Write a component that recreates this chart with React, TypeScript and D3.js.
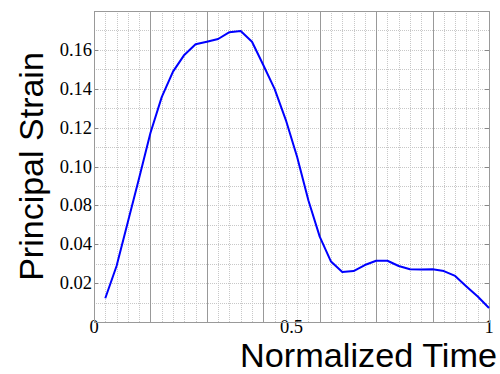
import React from "react";
import * as d3 from "d3";

const W = 500;
const H = 374;
const M = { top: 11, right: 11, bottom: 52, left: 94 };

// Normalized time samples (k/35)
const timeIndex = d3.range(1, 36);
const timeSteps = 35;
const strain = [
  0.0122, 0.0288, 0.0629, 0.0941, 0.1172, 0.1357, 0.1488, 0.1574, 0.1629,
  0.1642, 0.1656, 0.1691, 0.1697, 0.1642, 0.1522, 0.1399, 0.1239, 0.1049,
  0.0825, 0.0478, 0.0311, 0.0257, 0.0262, 0.0293, 0.0315, 0.0315, 0.0288,
  0.0271, 0.027, 0.0271, 0.0262, 0.0237, 0.0183, 0.0131, 0.0072,
];

// y axis as drawn: evenly spaced ticks with these labels
const yTickValues = [0.02, 0.04, 0.08, 0.1, 0.12, 0.14, 0.16];
const yTickLabels = ["0.02", "0.04", "0.08", "0.10", "0.12", "0.14", "0.16"];
const yDomain = [0, 0.02, 0.04, 0.08, 0.1, 0.12, 0.14, 0.16, 0.18];

const xTickValues = [0, 0.5, 1];
const xTickLabels = ["0", "0.5", "1"];
const xMajorDiv = 7;
const xMinorDiv = 35;
const yMinorDiv = 16;

const xLabel = "Normalized Time";
const yLabel = "Principal Strain";

export default function App() {
  const x0 = M.left;
  const x1 = W - M.right;
  const yb = H - M.bottom;
  const yt = M.top;
  const x = d3.scaleLinear().domain([0, 1]).range([x0, x1]);
  const yRange = yDomain.map((_, i) => yb + (i * (yt - yb)) / (yDomain.length - 1));
  const y = d3.scaleLinear().domain(yDomain).range(yRange);

  const data = timeIndex.map((k, i) => ({ t: k / timeSteps, v: strain[i] }));
  const line = d3
    .line<{ t: number; v: number }>()
    .x((d) => x(d.t))
    .y((d) => y(d.v));

  const snap = (v: number) => Math.round(v) + 0.5;

  const xMinor = d3
    .range(1, xMinorDiv)
    .filter((i) => i % (xMinorDiv / xMajorDiv) !== 0)
    .map((i) => i / xMinorDiv);
  const xMajor = d3.range(1, xMajorDiv).map((i) => i / xMajorDiv);
  const yMinorPos = d3.range(1, yMinorDiv).map((i) => yb + (i * (yt - yb)) / yMinorDiv);

  const serifStyle = { fontFamily: '"Liberation Serif", "DejaVu Serif", serif' };
  const sansStyle = { fontFamily: '"Liberation Sans", Arial, sans-serif' };

  return (
    <svg
      width={W}
      height={H}
      style={{ position: "absolute", left: 0, top: 0, background: "#fff" }}
    >
      <rect x={0} y={0} width={W} height={H} fill="#fff" />
      {/* minor vertical grid */}
      {xMinor.map((t, i) => (
        <line
          key={"xm" + i}
          x1={snap(x(t))}
          x2={snap(x(t))}
          y1={yt}
          y2={yb}
          stroke="#c8c8c8"
          strokeWidth={1}
          strokeDasharray="1,1"
        />
      ))}
      {/* horizontal grid */}
      {yMinorPos.map((p, i) => (
        <line
          key={"ym" + i}
          x1={x0}
          x2={x1}
          y1={snap(p)}
          y2={snap(p)}
          stroke="#c8c8c8"
          strokeWidth={1}
          strokeDasharray="1,1"
        />
      ))}
      {/* major vertical grid */}
      {xMajor.map((t, i) => (
        <line
          key={"xM" + i}
          x1={snap(x(t))}
          x2={snap(x(t))}
          y1={yt}
          y2={yb}
          stroke="#999"
          strokeWidth={1}
        />
      ))}
      {/* y ticks */}
      {yTickValues.map((v, i) => (
        <g key={"yt" + i}>
          <line x1={x0} x2={x0 + 4} y1={snap(y(v))} y2={snap(y(v))} stroke="#888" />
          <line x1={x1 - 4} x2={x1} y1={snap(y(v))} y2={snap(y(v))} stroke="#888" />
          <text
            x={x0 - 2}
            y={y(v) + 6}
            textAnchor="end"
            style={serifStyle}
            fontSize={18.5}
            fill="#000"
          >
            {yTickLabels[i]}
          </text>
        </g>
      ))}
      {/* x tick labels */}
      {xTickValues.map((v, i) => (
        <text
          key={"xt" + i}
          x={x(v)}
          y={yb + 11}
          textAnchor="middle"
          style={serifStyle}
          fontSize={18.5}
          fill="#000"
        >
          {xTickLabels[i]}
        </text>
      ))}
      {/* frame */}
      <rect
        x={x0 + 0.5}
        y={yt + 0.5}
        width={x1 - x0}
        height={yb - yt}
        fill="none"
        stroke="#999"
        strokeWidth={1}
      />
      {/* data line */}
      <path
        d={line(data) || ""}
        fill="none"
        stroke="#0000ff"
        strokeWidth={2}
        strokeLinejoin="round"
      />
      {/* axis titles */}
      <text
        x={W - 3}
        y={H - 7}
        textAnchor="end"
        style={sansStyle}
        fontSize={32.5}
        textLength={257}
        lengthAdjust="spacingAndGlyphs"
        fill="#000"
      >
        {xLabel}
      </text>
      <text
        transform={`translate(43, ${(yt + yb) / 2}) rotate(-90)`}
        textAnchor="middle"
        style={sansStyle}
        fontSize={34}
        fill="#000"
      >
        {yLabel}
      </text>
    </svg>
  );
}
